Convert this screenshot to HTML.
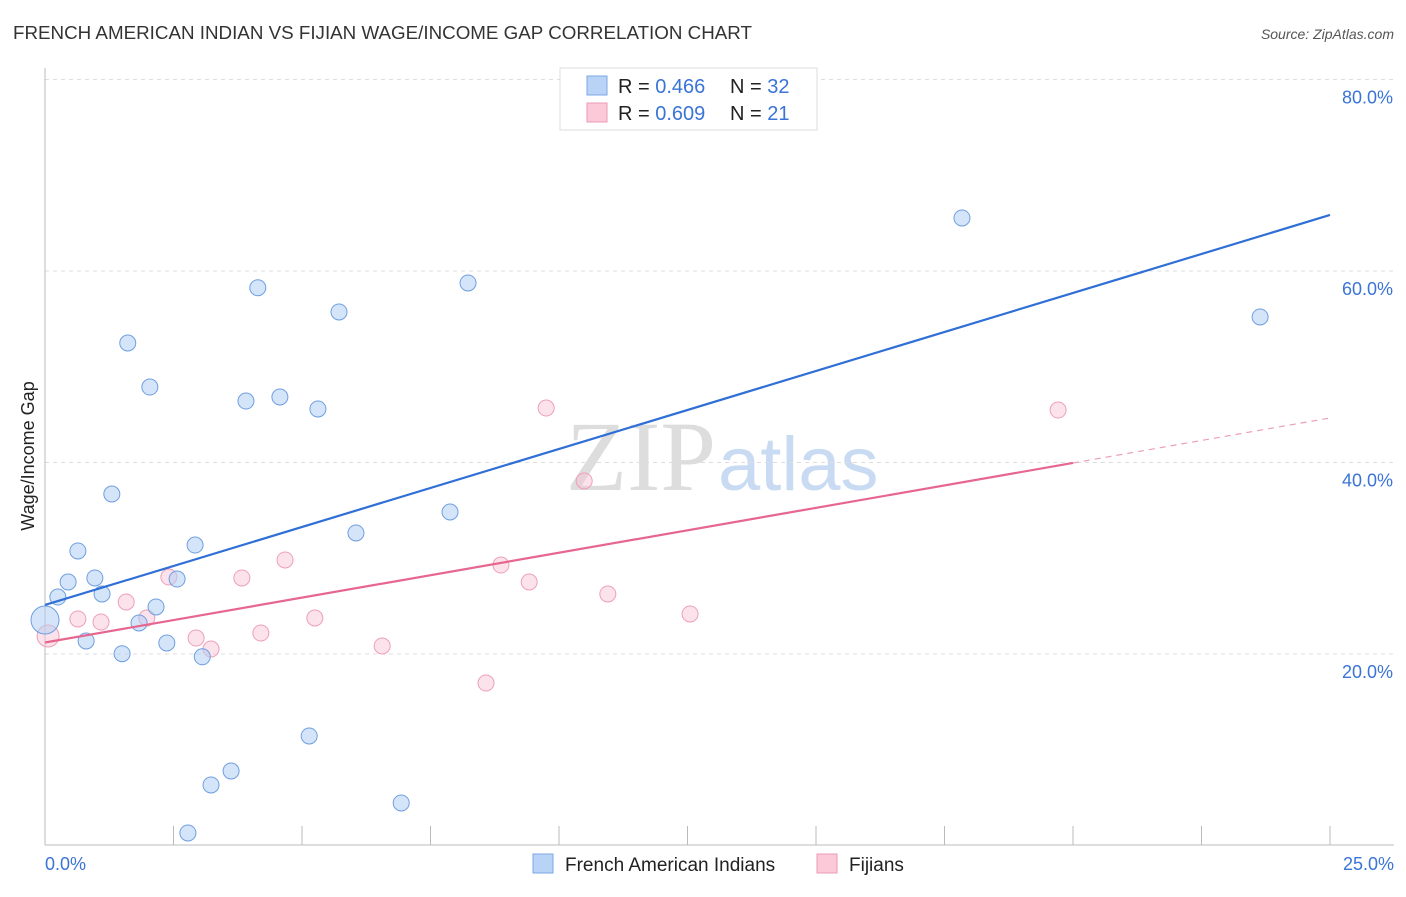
<!DOCTYPE html>
<html><head><meta charset="utf-8"><style>
body{margin:0;background:#fff;font-family:"Liberation Sans",sans-serif}
</style></head><body>
<svg id="c" width="1406" height="892" xmlns="http://www.w3.org/2000/svg" font-family="Liberation Sans, sans-serif">
<text x="13" y="39" font-size="18" fill="#333" textLength="739" lengthAdjust="spacingAndGlyphs">FRENCH AMERICAN INDIAN VS FIJIAN WAGE/INCOME GAP CORRELATION CHART</text>
<text x="1394" y="39" font-size="14" fill="#555" font-style="italic" text-anchor="end">Source: ZipAtlas.com</text>
<text x="716" y="490" font-size="100" fill="#ddd" font-family="Liberation Serif, serif" text-anchor="end">ZIP</text>
<text x="718" y="490" font-size="76" fill="#c9dbf2">atlas</text>
<text transform="translate(34,456) rotate(-90)" font-size="18" fill="#222" text-anchor="middle">Wage/Income Gap</text>
<g id="grid"></g><g id="marks"></g>
<g>
<rect x="560" y="68" width="257" height="62" fill="#fff" stroke="#ddd"/>
<rect x="587" y="76" width="20" height="19" fill="#b8d3f5" stroke="#7aa7e6"/>
<rect x="587" y="103" width="20" height="19" fill="#fbc9d7" stroke="#ee9ab4"/>
<text x="618" y="93" font-size="20" fill="#222">R = <tspan fill="#3a74d6">0.466</tspan></text>
<text x="730" y="93" font-size="20" fill="#222">N = <tspan fill="#3a74d6">32</tspan></text>
<text x="618" y="120" font-size="20" fill="#222">R = <tspan fill="#3a74d6">0.609</tspan></text>
<text x="730" y="120" font-size="20" fill="#222">N = <tspan fill="#3a74d6"> 21</tspan></text>
</g>
<g>
<rect x="533" y="854" width="20" height="19" fill="#b8d3f5" stroke="#7aa7e6"/>
<text x="565" y="871" font-size="19" fill="#222">French American Indians</text>
<rect x="817" y="854" width="20" height="19" fill="#fbc9d7" stroke="#ee9ab4"/>
<text x="849" y="871" font-size="19" fill="#222">Fijians</text>
</g>
</svg>
<script>
const blueX=[0,0.25,0.45,0.64,0.80,0.97,1.11,1.30,1.50,1.61,1.83,2.04,2.16,2.37,2.57,2.92,3.06,3.23,3.62,2.78,3.91,4.14,4.57,5.14,5.31,5.72,6.05,6.93,7.88,8.23,17.84,23.64];
const blueY=[23.55,25.95,27.52,30.76,21.36,27.94,26.27,36.71,20.03,52.48,23.24,47.88,24.91,21.15,27.83,31.38,19.71,6.32,7.78,1.31,46.42,58.25,46.84,11.44,45.59,55.72,32.64,4.44,34.83,58.75,65.54,55.2];
const pinkX=[0.06,0.64,1.09,1.58,1.98,2.41,2.94,3.23,3.83,4.20,4.67,5.25,6.56,8.58,8.87,9.42,9.75,10.49,10.95,12.55,19.71];
const pinkY=[21.88,23.66,23.34,25.43,23.76,28.04,21.67,20.52,27.94,22.19,29.82,23.76,20.84,16.97,29.29,27.52,45.69,38.07,26.27,24.18,45.48];
const blueTrend=[25.12,65.85];
const pinkTrend=[21.2,39.95,44.65];
const yTicks=[20,40,60,80];
const xTickLabels=["0.0%","25.0%"];
const NS="http://www.w3.org/2000/svg";
const sx=v=>45+v*51.4, sy=v=>845.5-v*9.575;
function mk(t,a,p){const e=document.createElementNS(NS,t);for(const k in a)e.setAttribute(k,a[k]);p.appendChild(e);return e;}
const g=document.getElementById('grid'), m=document.getElementById('marks');
yTicks.forEach(t=>{
 const l=mk('line',{x1:45,x2:1394,y1:sy(t),y2:sy(t),stroke:'#ddd','stroke-dasharray':'4,4'},g);
 
 
 const tx=mk('text',{x:1393,y:sy(t)+24,'font-size':18,fill:'#3a74d6','text-anchor':'end'},g);
 tx.textContent=t.toFixed(1)+'%';
 
 
});
let ax=mk('line',{x1:45,x2:45,y1:68,y2:845,stroke:'#bbb'},g);


ax=mk('line',{x1:45,x2:1394,y1:845,y2:845,stroke:'#bbb'},g);


for(let i=0;i<=10;i++){const x=sx(i*2.5);const t=mk('line',{x1:x,x2:x,y1:826,y2:845,stroke:'#bbb'},g);
 
 }
[[0,'start',45],[25,'end',1394]].forEach((d,i)=>{const t=mk('text',{x:d[2],y:870,'font-size':18,fill:'#3a74d6','text-anchor':d[1]},g);t.textContent=xTickLabels[i];
 
 });
pinkX.forEach((x,i)=>{const c=mk('circle',{cx:sx(x),cy:sy(pinkY[i]),r:i==0?11:8,fill:'rgba(248,190,208,0.45)',stroke:'#eea0b8','stroke-width':1},m);
 
 });
blueX.forEach((x,i)=>{const c=mk('circle',{cx:sx(x),cy:sy(blueY[i]),r:i==0?14:8,fill:'rgba(176,206,244,0.55)',stroke:'#6f9fe0','stroke-width':1},m);
 
 });
let l=mk('line',{x1:sx(0),y1:sy(blueTrend[0]),x2:sx(25),y2:sy(blueTrend[1]),stroke:'#2f6fd6','stroke-width':2.2},m);


l=mk('line',{x1:sx(0),y1:sy(pinkTrend[0]),x2:sx(20),y2:sy(pinkTrend[1]),stroke:'#e7668f','stroke-width':2.2},m);


l=mk('line',{x1:sx(20),y1:sy(pinkTrend[1]),x2:sx(25),y2:sy(pinkTrend[2]),stroke:'#eaa0b8','stroke-width':1.2,'stroke-dasharray':'6,5'},m);


</script>
</body></html>
